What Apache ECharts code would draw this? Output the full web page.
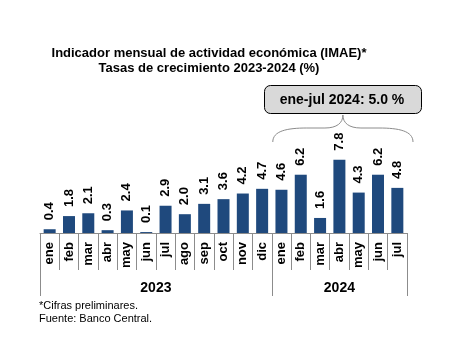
<!DOCTYPE html>
<html>
<head>
<meta charset="utf-8">
<script src="https://cdn.jsdelivr.net/npm/echarts@6/dist/echarts.min.js"></script>
<style>
  html, body { margin: 0; padding: 0; background: #fff; }
  #chart { width: 466px; height: 337px; }
</style>
</head>
<body>
<div id="chart"></div>
<script>
// Monthly IMAE growth rates, 2023 and Jan–Jul 2024
const months2023 = ['ene', 'feb', 'mar', 'abr', 'may', 'jun', 'jul', 'ago', 'sep', 'oct', 'nov', 'dic'];
const months2024 = ['ene', 'feb', 'mar', 'abr', 'may', 'jun', 'jul'];
const values2023 = [0.4, 1.8, 2.1, 0.3, 2.4, 0.1, 2.9, 2.0, 3.1, 3.6, 4.2, 4.7];
const values2024 = [4.6, 6.2, 1.6, 7.8, 4.3, 6.2, 4.8];
const years = ['2023', '2024'];
const titleLines = ['Indicador mensual de actividad económica (IMAE)*', 'Tasas de crecimiento 2023-2024 (%)'];
const summaryText = 'ene-jul 2024: 5.0 %';
const notes = ['*Cifras preliminares.', 'Fuente: Banco Central.'];

// Unique category keys (month|year) so repeated month names stay distinct
const categories = months2023.map(m => m + '|' + years[0]).concat(months2024.map(m => m + '|' + years[1]));
const values = values2023.concat(values2024);

const FONT = 'Liberation Sans, Arial, sans-serif';
const BAR = '#1f497d';
const SEP = '#8c8c8c';

const chart = echarts.init(document.getElementById('chart'), null, { renderer: 'canvas' });

const option = {
  animation: false,
  backgroundColor: '#ffffff',
  grid: { left: 40, right: 59, top: 139, bottom: 104 },
  xAxis: {
    type: 'category',
    data: categories,
    boundaryGap: true,
    axisLine: { show: true, lineStyle: { color: SEP, width: 1 } },
    axisTick: { show: true, interval: 0, length: 37, lineStyle: { color: SEP, width: 1 } },
    axisLabel: {
      interval: 0,
      rotate: 90,
      margin: 9,
      color: '#000',
      fontFamily: FONT,
      fontSize: 13,
      fontWeight: 'bold',
      formatter: v => v.split('|')[0]
    }
  },
  yAxis: {
    type: 'value',
    min: 0,
    max: 10,
    show: false,
    splitLine: { show: false }
  },
  series: [{
    type: 'bar',
    data: values,
    barWidth: 12,
    itemStyle: { color: BAR },
    label: {
      show: true,
      position: 'top',
      rotate: 90,
      align: 'left',
      verticalAlign: 'middle',
      distance: 9,
      color: '#000',
      fontFamily: FONT,
      fontSize: 13,
      fontWeight: 'bold',
      formatter: p => p.value.toFixed(1)
    }
  }]
};

chart.setOption(option);

// Year group separators and labels, placed from the category axis scale
function boundaryX(index) {
  const c0 = chart.convertToPixel({ xAxisIndex: 0 }, categories[0]);
  const c1 = chart.convertToPixel({ xAxisIndex: 0 }, categories[1]);
  const band = c1 - c0;
  return c0 - band / 2 + band * index;
}
const axisY = chart.convertToPixel({ yAxisIndex: 0 }, 0);
const b0 = boundaryX(0);
const b1 = boundaryX(months2023.length);
const b2 = boundaryX(categories.length);

const graphics = [];
[b0, b1, b2].forEach(x => {
  graphics.push({
    type: 'line',
    shape: { x1: Math.round(x) + 0.5, y1: axisY, x2: Math.round(x) + 0.5, y2: axisY + 63 },
    style: { stroke: SEP, lineWidth: 1 },
    silent: true
  });
});
[[b0, b1, years[0]], [b1, b2, years[1]]].forEach(([a, b, t]) => {
  graphics.push({
    type: 'text',
    x: (a + b) / 2,
    y: axisY + 55,
    style: { text: t, fill: '#000', font: 'bold 14px ' + FONT, textAlign: 'center', textVerticalAlign: 'middle' },
    silent: true
  });
});

// Title
titleLines.forEach((t, i) => {
  graphics.push({
    type: 'text',
    x: 209,
    y: 53 + i * 15.5,
    style: { text: t, fill: '#000', font: 'bold 13px ' + FONT, textAlign: 'center', textVerticalAlign: 'middle' },
    silent: true
  });
});

// Summary box with brace over the 2024 months
graphics.push({
  type: 'rect',
  shape: { x: 264.5, y: 85.5, width: 157, height: 28, r: 6 },
  style: { fill: '#d9d9d9', stroke: '#000', lineWidth: 1 },
  silent: true
});
graphics.push({
  type: 'text',
  x: 342,
  y: 100,
  style: { text: summaryText, fill: '#000', font: 'bold 14px ' + FONT, textAlign: 'center', textVerticalAlign: 'middle' },
  silent: true
});

// Brace: outer curves, straight runs, and the central point
const bl = b1 + 1, br = b2 + 6, bc = (bl + br) / 2;
const yEnd = 142, yMid = 128, yTip = 115;
const braceStyle = { stroke: SEP, lineWidth: 1, fill: 'none' };
function curve(x1, y1, cx1, cy1, cx2, cy2, x2, y2) {
  graphics.push({
    type: 'bezierCurve',
    shape: { x1: x1, y1: y1, cpx1: cx1, cpy1: cy1, cpx2: cx2, cpy2: cy2, x2: x2, y2: y2 },
    style: braceStyle,
    silent: true
  });
}
function seg(x1, y1, x2, y2) {
  graphics.push({ type: 'line', shape: { x1: x1, y1: y1, x2: x2, y2: y2 }, style: braceStyle, silent: true });
}
curve(bl, yEnd, bl, yMid + 3, bl + 14, yMid, bl + 34, yMid);
seg(bl + 34, yMid, bc - 18, yMid);
curve(bc - 18, yMid, bc - 6, yMid, bc, yMid - 5, bc, yTip);
curve(bc, yTip, bc, yMid - 5, bc + 6, yMid, bc + 18, yMid);
seg(bc + 18, yMid, br - 34, yMid);
curve(br - 34, yMid, br - 14, yMid, br, yMid + 3, br, yEnd);

// Footnotes
notes.forEach((t, i) => {
  graphics.push({
    type: 'text',
    x: 39,
    y: 306 + i * 13,
    style: { text: t, fill: '#000', font: '11px ' + FONT, textAlign: 'left', textVerticalAlign: 'middle' },
    silent: true
  });
});

chart.setOption({ graphic: graphics });
</script>
</body>
</html>
